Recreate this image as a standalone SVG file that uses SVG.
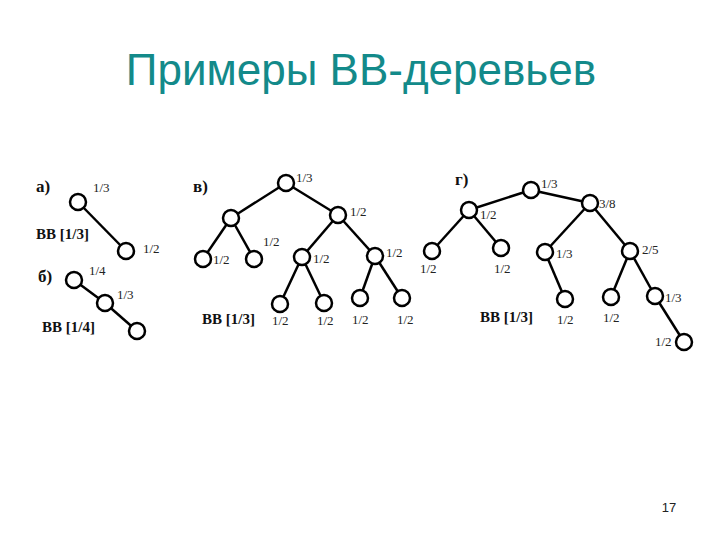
<svg xmlns="http://www.w3.org/2000/svg" width="720" height="540" viewBox="0 0 720 540">
<style>
.n{fill:#fff;stroke:#000;stroke-width:2.5}
.e{stroke:#000;stroke-width:2.5;fill:none}
.l{font-family:"Liberation Serif",serif;font-size:13px;fill:#222}
.b{font-family:"Liberation Serif",serif;font-size:15px;font-weight:bold;fill:#111}
.h{font-family:"Liberation Serif",serif;font-size:17px;font-weight:bold;fill:#111}
.t{font-family:"Liberation Sans",Arial,sans-serif;font-size:44px;fill:#138a8a}
</style>
<rect width="720" height="540" fill="#fff"/>
<text class="t" x="361" y="85" text-anchor="middle">Примеры ВВ-деревьев</text>
<g id="connectors">
<line class="e" x1="78" y1="202" x2="126" y2="251"/>
<line class="e" x1="74" y1="280" x2="105" y2="303"/>
<line class="e" x1="105" y1="303" x2="137" y2="331"/>
<line class="e" x1="286" y1="183" x2="231" y2="218"/>
<line class="e" x1="286" y1="183" x2="338" y2="215"/>
<line class="e" x1="231" y1="218" x2="203" y2="259"/>
<line class="e" x1="231" y1="218" x2="254" y2="259"/>
<line class="e" x1="338" y1="215" x2="302" y2="257"/>
<line class="e" x1="338" y1="215" x2="375" y2="256"/>
<line class="e" x1="302" y1="257" x2="280" y2="304"/>
<line class="e" x1="302" y1="257" x2="324" y2="303"/>
<line class="e" x1="375" y1="256" x2="360" y2="298"/>
<line class="e" x1="375" y1="256" x2="402" y2="298"/>
<line class="e" x1="531" y1="190" x2="469" y2="210"/>
<line class="e" x1="531" y1="190" x2="590" y2="203"/>
<line class="e" x1="469" y1="210" x2="432" y2="251"/>
<line class="e" x1="469" y1="210" x2="501" y2="248"/>
<line class="e" x1="590" y1="203" x2="545" y2="252"/>
<line class="e" x1="590" y1="203" x2="630" y2="251"/>
<line class="e" x1="545" y1="252" x2="565" y2="299"/>
<line class="e" x1="630" y1="251" x2="611" y2="297"/>
<line class="e" x1="630" y1="251" x2="655" y2="296"/>
<line class="e" x1="655" y1="296" x2="684" y2="342"/>
</g>
<g id="tree-a">
<text class="h" x="36" y="192">а)</text>
<circle id="a1" class="n" cx="78" cy="202" r="8"/>
<circle id="a2" class="n" cx="126" cy="251" r="8"/>
<text class="l" x="93" y="192">1/3</text>
<text class="l" x="143" y="253">1/2</text>
<text class="b" x="36" y="239">ВВ [1/3]</text>
</g>
<g id="tree-b">
<text class="h" x="38" y="282">б)</text>
<circle id="b1" class="n" cx="74" cy="280" r="8"/>
<circle id="b2" class="n" cx="105" cy="303" r="8"/>
<circle id="b3" class="n" cx="137" cy="331" r="8"/>
<text class="l" x="89" y="275">1/4</text>
<text class="l" x="117" y="299">1/3</text>
<text class="b" x="42" y="332">ВВ [1/4]</text>
</g>
<g id="tree-v">
<text class="h" x="193" y="192">в)</text>
<circle id="v1" class="n" cx="286" cy="183" r="8"/>
<circle id="v2" class="n" cx="231" cy="218" r="8"/>
<circle id="v3" class="n" cx="338" cy="215" r="8"/>
<circle id="v4" class="n" cx="203" cy="259" r="8"/>
<circle id="v5" class="n" cx="254" cy="259" r="8"/>
<circle id="v6" class="n" cx="302" cy="257" r="8"/>
<circle id="v7" class="n" cx="375" cy="256" r="8"/>
<circle id="v8" class="n" cx="280" cy="304" r="8"/>
<circle id="v9" class="n" cx="324" cy="303" r="8"/>
<circle id="v10" class="n" cx="360" cy="298" r="8"/>
<circle id="v11" class="n" cx="402" cy="298" r="8"/>
<text class="l" x="296" y="182">1/3</text>
<text class="l" x="350" y="216">1/2</text>
<text class="l" x="263" y="246">1/2</text>
<text class="l" x="213" y="264">1/2</text>
<text class="l" x="313" y="263">1/2</text>
<text class="l" x="386" y="257">1/2</text>
<text class="l" x="272" y="325">1/2</text>
<text class="l" x="317" y="325">1/2</text>
<text class="l" x="352" y="324">1/2</text>
<text class="l" x="397" y="324">1/2</text>
<text class="b" x="202" y="324">ВВ [1/3]</text>
</g>
<g id="tree-g">
<text class="h" x="455" y="185">г)</text>
<circle id="g1" class="n" cx="531" cy="190" r="8"/>
<circle id="g2" class="n" cx="469" cy="210" r="8"/>
<circle id="g3" class="n" cx="590" cy="203" r="8"/>
<circle id="g4" class="n" cx="432" cy="251" r="8"/>
<circle id="g5" class="n" cx="501" cy="248" r="8"/>
<circle id="g6" class="n" cx="545" cy="252" r="8"/>
<circle id="g7" class="n" cx="630" cy="251" r="8"/>
<circle id="g8" class="n" cx="565" cy="299" r="8"/>
<circle id="g9" class="n" cx="611" cy="297" r="8"/>
<circle id="g10" class="n" cx="655" cy="296" r="8"/>
<circle id="g11" class="n" cx="684" cy="342" r="8"/>
<text class="l" x="541" y="188">1/3</text>
<text class="l" x="480" y="219">1/2</text>
<text class="l" x="599" y="208">3/8</text>
<text class="l" x="420" y="273">1/2</text>
<text class="l" x="494" y="273">1/2</text>
<text class="l" x="556" y="258">1/3</text>
<text class="l" x="642" y="254">2/5</text>
<text class="l" x="557" y="324">1/2</text>
<text class="l" x="603" y="322">1/2</text>
<text class="l" x="665" y="302">1/3</text>
<text class="l" x="655" y="346">1/2</text>
<text class="b" x="480" y="322">ВВ [1/3]</text>
</g>
<text x="669" y="512" font-family="Liberation Sans,Arial,sans-serif" font-size="13" fill="#222" text-anchor="middle">17</text>
</svg>
